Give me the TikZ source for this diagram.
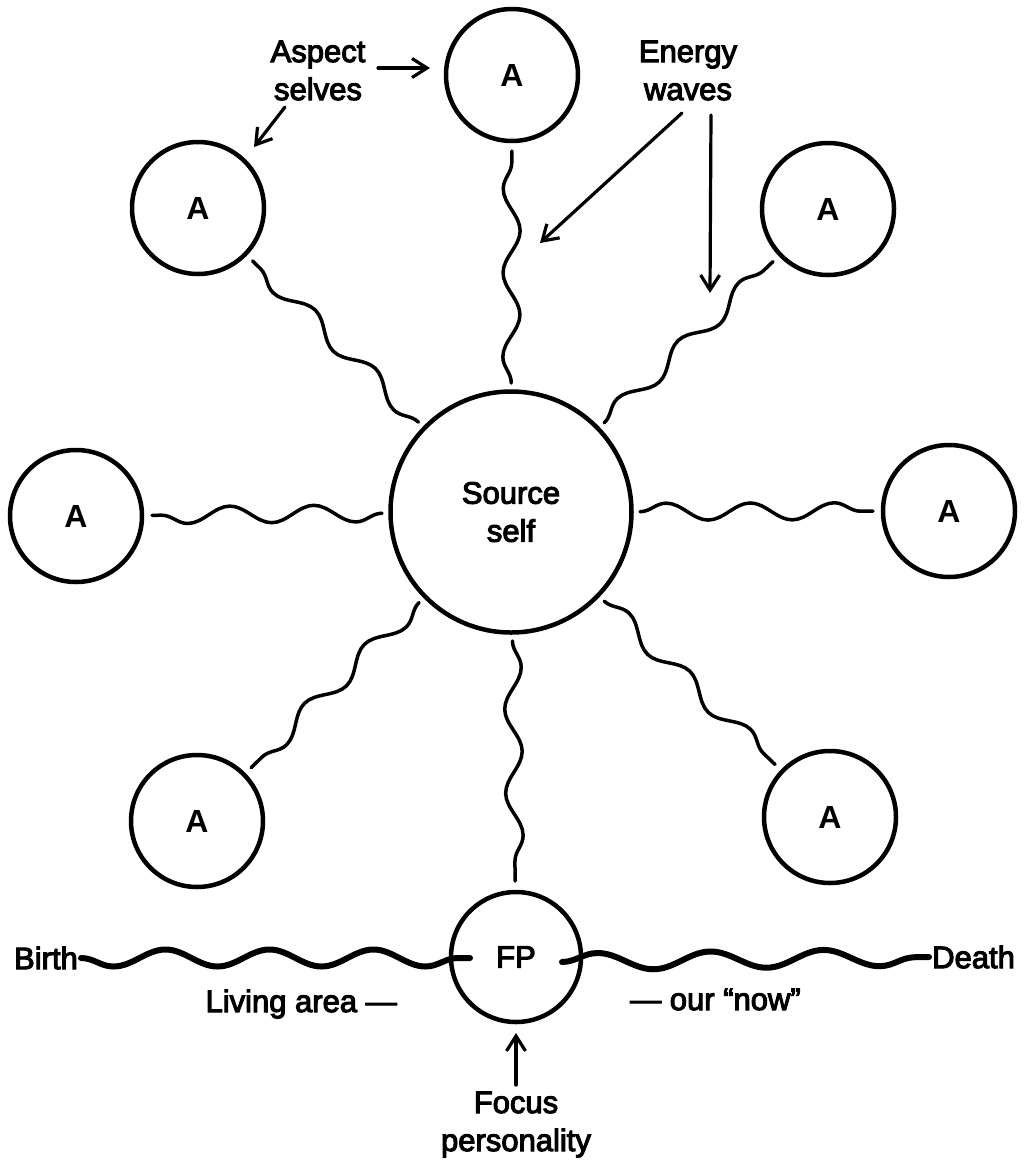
\documentclass[tikz,border=0pt]{standalone}
\usepackage{fontspec}
\usetikzlibrary{calc,decorations.pathmorphing,arrows.meta}
\newfontfamily\labelfont[FakeBold=3.5]{Liberation Sans}
\newfontfamily\letterfont{Liberation Sans Bold}

\tikzset{
  lbl/.style={font=\labelfont\fontsize{31}{38}\selectfont, inner sep=0pt, align=center},
  bubble/.style={circle, draw, line width=4.5pt, minimum size=132pt, inner sep=0pt,
                 font=\letterfont\fontsize{32}{38}\selectfont},
  wave/.style={line width=3.5pt, line cap=round, decorate,
               decoration={snake, segment length=84pt, amplitude=8.5pt}},
  lifeline/.style={line width=6pt, line cap=round, decorate,
               decoration={snake, amplitude=8.5pt}},
  pointer/.style={line width=3.2pt, line cap=round,
                  -{Straight Barb[length=15pt,width=19pt]}}
}

\begin{document}
\begin{tikzpicture}[x=1pt,y=-1pt]
  \fill[white] (0,0) rectangle (1030,1160);
  \useasboundingbox (0,0) rectangle (1030,1160);

  % source self and the aspect selves around it
  \node[bubble, minimum size=241pt, font=\labelfont\fontsize{31}{38}\selectfont, align=center]
       (src) at (511,512) {Source\\self};
  \node[bubble] (top) at (512,75)  {A};
  \node[bubble] (tl)  at (198,208) {A};
  \node[bubble] (tr)  at (828,209) {A};
  \node[bubble] (lf)  at (76,516)  {A};
  \node[bubble] (rt)  at (949,511) {A};
  \node[bubble] (bl)  at (197,821) {A};
  \node[bubble] (br)  at (830,817) {A};
  \node[bubble, minimum size=130pt, font=\labelfont\fontsize{31}{38}\selectfont]
       (fp) at (516,957) {FP};

  % energy waves from the source self
  \foreach \n in {top,tl,tr,lf,rt,bl,br,fp}
    \draw[wave] ($(src)!129pt!(\n)$) -- ($(\n)!76pt!(src)$);

  % labels (base anchor sits on the last line)
  \node[lbl, anchor=base] (asp) at (318,100) {Aspect\\selves};
  \node[lbl, anchor=base] (ene) at (688,100) {Energy\\waves};
  \node[lbl, anchor=east] (birth) at (78,958) {Birth};
  \node[lbl, anchor=west] (death) at (932,957) {Death};
  \node[lbl, anchor=base east] (living) at (397,1012) {Living area —};
  \node[lbl, anchor=base west] (now) at (630,1010) {— our “now”};
  \node[lbl, anchor=base] (focus) at (516,1151) {Focus\\personality};

  % life line from birth to death through the focus personality
  \draw[lifeline, decoration={segment length=104pt, mirror}]
       ([xshift=3pt]birth.east) -- ($(fp)+(-46,1)$);
  \draw[lifeline, decoration={segment length=113pt}]
       ($(fp)+(46,5)$) -- ([xshift=-3pt]death.west);

  % pointers
  \coordinate (aspTail) at (378,68);  \coordinate (aspTip) at (430,68);
  \coordinate (selTail) at (285,107); \coordinate (selTip) at (254,147);
  \coordinate (eneTailA) at (682,113); \coordinate (eneTipA) at (540,243);
  \coordinate (eneTailB) at (711,115); \coordinate (eneTipB) at (710,293);
  \coordinate (fpTail) at (516,1085);  \coordinate (fpTip) at (516,1033);
  \draw[pointer] (aspTail) -- (aspTip);
  \draw[pointer] (selTail) -- (selTip);
  \draw[pointer] (eneTailA) -- (eneTipA);
  \draw[pointer] (eneTailB) -- (eneTipB);
  \draw[pointer] (fpTail) -- (fpTip);
\end{tikzpicture}
\end{document}
